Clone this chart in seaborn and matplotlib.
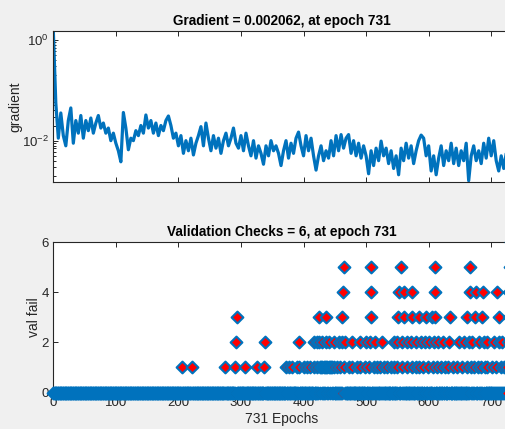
import numpy as np
import pandas as pd
import matplotlib
matplotlib.use("Agg")
import matplotlib.pyplot as plt
import seaborn as sns
from matplotlib.ticker import FixedLocator, NullFormatter, LogFormatterMathtext

# ---------------- data ----------------
grad_epochs = list(range(0, 729, 4)) + [731]
grad_values = [
    1.6, 0.056, 0.0112, 0.0355, 0.0126, 0.0079, 0.0251, 0.0447, 0.0089, 0.0251,
    0.0141, 0.0316, 0.0112, 0.0251, 0.0158, 0.0282, 0.0141, 0.0224, 0.0316, 0.0178,
    0.0224, 0.0141, 0.0178, 0.0100, 0.0141, 0.0089, 0.0063, 0.0038, 0.0363, 0.0178,
    0.0066, 0.0112, 0.0100, 0.0158, 0.0126, 0.0200, 0.0141, 0.0324, 0.0178, 0.0251,
    0.0141, 0.0224, 0.0126, 0.0200, 0.0158, 0.0251, 0.0309, 0.0200, 0.0112, 0.0141,
    0.0079, 0.0126, 0.0056, 0.0100, 0.0063, 0.0112, 0.0052, 0.0089, 0.0126, 0.0190,
    0.0079, 0.0224, 0.0112, 0.0063, 0.0126, 0.0071, 0.0112, 0.0056, 0.0100, 0.0141,
    0.0079, 0.0112, 0.0178, 0.0089, 0.0071, 0.0126, 0.0063, 0.0141, 0.0079, 0.0050,
    0.0100, 0.0045, 0.0079, 0.0056, 0.0034, 0.0079, 0.0050, 0.0100, 0.0063, 0.0079,
    0.0056, 0.0032, 0.0063, 0.0100, 0.0045, 0.0089, 0.0056, 0.0112, 0.0148, 0.0079,
    0.0050, 0.0126, 0.0063, 0.0112, 0.0050, 0.0026, 0.0050, 0.0079, 0.0040, 0.0063,
    0.0045, 0.0100, 0.0050, 0.0126, 0.0063, 0.0132, 0.0071, 0.0112, 0.0132, 0.0056,
    0.0100, 0.0050, 0.0089, 0.0045, 0.0079, 0.0050, 0.0022, 0.0063, 0.0032, 0.0071,
    0.0040, 0.0098, 0.0050, 0.0071, 0.0035, 0.0063, 0.0028, 0.0050, 0.0021, 0.0071,
    0.0040, 0.0089, 0.0045, 0.0079, 0.0035, 0.0063, 0.0100, 0.0129, 0.0112, 0.0050,
    0.0079, 0.0025, 0.0050, 0.0021, 0.0045, 0.0079, 0.0032, 0.0063, 0.0040, 0.0089,
    0.0035, 0.0071, 0.0032, 0.0063, 0.0040, 0.0089, 0.0016, 0.0050, 0.0079, 0.0040,
    0.0063, 0.0035, 0.0089, 0.0045, 0.0112, 0.0050, 0.0100, 0.0040, 0.0025, 0.0050,
    0.0028, 0.0056, 0.0032, 0.002062,
]

n_epochs = 731
val_level1 = [205, 221, 274, 291, 307, 325, 337, 372, 377, 382, 389, 392, 400, 405,
              410, 416, 421, 426, 428, 430, 432, 434, 436, 438, 440, 442, 444, 446,
              448, 453, 458, 465, 473, 478, 486, 491, 499, 504, 512, 518, 523, 529,
              534, 540, 545, 550, 558, 566, 574, 579, 584, 591, 599, 607, 614, 620,
              626, 631, 639, 646, 654, 662, 668, 673, 679, 684, 690, 694, 701, 708,
              716, 721, 726]
val_level2 = [292, 338, 393, 417, 421, 425, 430, 436, 441, 449, 457, 462, 467, 478,
              491, 500, 507, 515, 526, 545, 550, 558, 566, 571, 580, 587, 594, 600,
              609, 615, 623, 633, 649, 657, 664, 670, 681, 688, 694, 705, 712, 718, 727]
val_level3 = [294, 424, 436, 462, 508, 551, 560, 574, 584, 596, 605, 610, 634, 662,
              674, 686, 712, 728]
val_level4 = [463, 508, 552, 560, 574, 610, 666, 676, 687, 710, 729]
val_level5 = [464, 508, 556, 610, 666, 730]
val_level6 = [731]

# ---------------- style ----------------
plt.rcParams['font.family'] = ['Liberation Sans', 'DejaVu Sans']
plt.rcParams['mathtext.fontset'] = 'custom'
plt.rcParams['mathtext.rm'] = 'Liberation Sans'
plt.rcParams['mathtext.it'] = 'Liberation Sans:italic'
plt.rcParams['mathtext.bf'] = 'Liberation Sans:bold'

BLUE = '#0072BD'
AXC = '#262626'
W, H = 506, 429

fig = plt.figure(figsize=(W / 100, H / 100), dpi=100, facecolor='#f0f0f0')
left = 53.3 / W
width = 457.3 / W
ax1 = fig.add_axes([left, 1 - 181.7 / H, width, 150.7 / H])
ax2 = fig.add_axes([left, 1 - 392.5 / H, width, 150.5 / H])

# ---------------- gradient ----------------
gdf = pd.DataFrame({'epoch': grad_epochs, 'gradient': grad_values})
sns.lineplot(data=gdf, x='epoch', y='gradient', ax=ax1, color=BLUE,
             linewidth=2.3, sort=False)
ax1.set_yscale('log')
ax1.set_ylim(0.00153, 1.51)
ax1.set_xlim(0, n_epochs)
ax1.set_xticks(range(0, 701, 100))
ax1.set_xticklabels([])
ax1.yaxis.set_major_locator(FixedLocator([1e-2, 1e0]))
minors = [k * 10.0 ** d for d in (-3, -2, -1) for k in range(1, 10)
          if not (k == 1 and d == -2)]
ax1.yaxis.set_minor_locator(FixedLocator(minors))
ax1.yaxis.set_major_formatter(LogFormatterMathtext())
ax1.yaxis.set_minor_formatter(NullFormatter())
ax1.set_xlabel('')
ax1.set_ylabel('gradient', fontsize=10, color=AXC)
ax1.yaxis.set_label_coords(-0.067, 0.5)
ax1.set_title('Gradient = 0.002062, at epoch 731', fontsize=9.8,
              fontweight='bold', pad=4, color='black')

# ---------------- validation checks ----------------
levels = [val_level1, val_level2, val_level3, val_level4, val_level5, val_level6]
nonzero = set()
for lv in levels:
    nonzero.update(lv)
zero_epochs = [e for e in range(0, n_epochs + 1) if e not in nonzero]
ep, vv = list(zero_epochs), [0] * len(zero_epochs)
for i, lv in enumerate(levels, start=1):
    ep += lv
    vv += [i] * len(lv)
vdf = pd.DataFrame({'epoch': ep, 'val fail': vv}).sort_values(
    'epoch', kind='stable').reset_index(drop=True)

sns.scatterplot(data=vdf, x='epoch', y='val fail', ax=ax2, marker='D', s=36,
                color='red', edgecolor=BLUE, linewidth=1.5,
                clip_on=False, zorder=3)
ax2.set_xlim(0, n_epochs)
ax2.set_ylim(0, 6)
ax2.set_xticks(range(0, 701, 100))
ax2.set_yticks([0, 2, 4, 6])
ax2.set_xlabel('731 Epochs', fontsize=10, color=AXC)
ax2.xaxis.set_label_coords(0.5, -0.132)
ax2.set_ylabel('val fail', fontsize=10, color=AXC)
ax2.yaxis.set_label_coords(-0.027, 0.5)
ax2.set_title('Validation Checks = 6, at epoch 731', fontsize=9.8,
              fontweight='bold', pad=4, color='black')

for ax in (ax1, ax2):
    ax.set_facecolor('white')
    ax.grid(False)
    for sp in ax.spines.values():
        sp.set_color(AXC)
        sp.set_linewidth(0.8)
    ax.tick_params(which='both', direction='in', top=True, right=True,
                   colors=AXC, labelsize=9.5, pad=3, width=0.7)
    ax.tick_params(which='major', length=3.3)
    ax.tick_params(which='minor', length=2)

fig.savefig('out.png', dpi=100, facecolor=fig.get_facecolor())
